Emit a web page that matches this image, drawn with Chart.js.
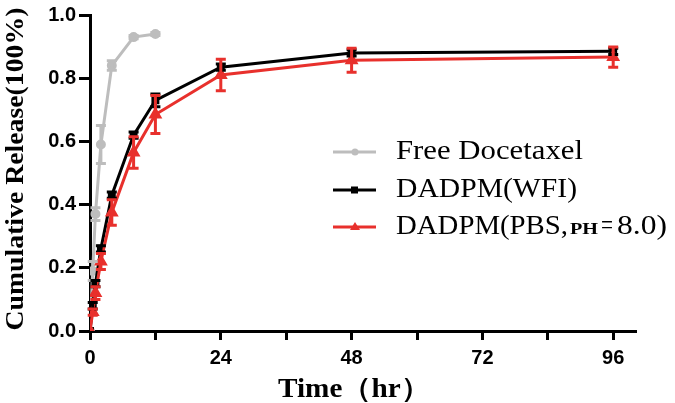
<!DOCTYPE html>
<html>
<head>
<meta charset="utf-8">
<script src="https://cdn.jsdelivr.net/npm/chart.js@4.4.1/dist/chart.umd.min.js"></script>
<style>
  html, body { margin: 0; padding: 0; background: #fff; }
  #wrap { width: 675px; height: 403px; }
</style>
</head>
<body>
<div id="wrap"><canvas id="chart" width="675" height="403"></canvas></div>
<script>
// release data (time in hours, fraction released)
var freeTime = [0, 0.5, 1, 2, 4, 8, 12];
var freeVal  = [0, 0.19, 0.37, 0.59, 0.84, 0.93, 0.94];
var freeErr  = [0, 0.03, 0.02, 0.06, 0.015, 0.005, 0.005];

var wfiTime = [0, 0.5, 1, 2, 4, 8, 12, 24, 48, 96];
var wfiVal  = [0, 0.08, 0.15, 0.26, 0.43, 0.62, 0.73, 0.835, 0.88, 0.885];
var wfiErr  = [0, 0.01, 0.01, 0.01, 0.01, 0.01, 0.02, 0.01, 0.01, 0.01];

var pbsTime = [0, 0.5, 1, 2, 4, 8, 12, 24, 48, 96];
var pbsVal  = [0, 0.06, 0.12, 0.22, 0.375, 0.565, 0.685, 0.81, 0.857, 0.867];
var pbsErr  = [0, 0.01, 0.02, 0.025, 0.04, 0.05, 0.06, 0.05, 0.038, 0.032];

var xTicks = [0, 24, 48, 72, 96];
var yTicks = [0, 0.2, 0.4, 0.6, 0.8, 1.0];

var legendLabels = ["Free Docetaxel", "DADPM(WFI)", "DADPM(PBS,PH=8.0)"];
var xTitle = "Time（hr）";
var yTitle = "Cumulative Release(100%)";

function pts(t, v) {
    var out = [];
    for (var i = 0; i < t.length; i++) out.push({x: t[i], y: v[i]});
    return out;
}

// draw text squeezed/stretched to a given width (the source font is wide)
function stretchText(ctx, text, x, y, w, align) {
    var m = ctx.measureText(text).width;
    var k = w / m;
    ctx.save();
    ctx.translate(x, y);
    ctx.scale(k, 1);
    ctx.textAlign = align || 'left';
    ctx.fillText(text, 0, 0);
    ctx.restore();
}

var errorBars = {
    id: 'errorBars',
    afterDatasetsDraw: function (chart) {
        var ctx = chart.ctx;
        var xs = chart.scales.x, ys = chart.scales.y;
        [0, 1, 2].forEach(function (di) {
            var ds = chart.data.datasets[di];
            if (!ds.errors) return;
            ctx.save();
            ctx.strokeStyle = ds.borderColor;
            ctx.lineWidth = 3;
            for (var i = 0; i < ds.data.length; i++) {
                var e = ds.errors[i];
                if (!e) continue;
                var px = xs.getPixelForValue(ds.data[i].x);
                var top = ys.getPixelForValue(ds.data[i].y + e);
                var bot = ys.getPixelForValue(ds.data[i].y - e);
                ctx.beginPath();
                ctx.moveTo(px, top); ctx.lineTo(px, bot);
                ctx.moveTo(px - 5, top); ctx.lineTo(px + 5, top);
                ctx.moveTo(px - 5, bot); ctx.lineTo(px + 5, bot);
                ctx.stroke();
            }
            ctx.restore();
        });
    }
};

var boxLegend = {
    id: 'boxLegend',
    afterDraw: function (chart) {
        var ctx = chart.ctx;
        var rows = [152, 190, 227];
        ctx.save();
        for (var i = 0; i < 3; i++) {
            var ds = chart.data.datasets[i];
            var y = rows[i];
            ctx.strokeStyle = ds.borderColor;
            ctx.fillStyle = ds.borderColor;
            ctx.lineWidth = 3;
            ctx.beginPath();
            ctx.moveTo(333, y); ctx.lineTo(376, y);
            ctx.stroke();
            ctx.beginPath();
            if (i === 0) {
                ctx.arc(355, y, 3.5, 0, Math.PI * 2);
            } else if (i === 1) {
                ctx.rect(351, y - 3.5, 7, 7);
            } else {
                ctx.moveTo(355, y - 5); ctx.lineTo(360, y + 3); ctx.lineTo(350, y + 3);
                ctx.closePath();
            }
            ctx.fill();
        }
        ctx.fillStyle = '#000';
        ctx.textBaseline = 'middle';
        ctx.font = '27px "Liberation Serif"';
        stretchText(ctx, legendLabels[0], 396, rows[0], 187);
        stretchText(ctx, legendLabels[1], 396, rows[1], 181);
        // third label: "PH" is set small and bold in the original
        var parts = legendLabels[2].split('PH');
        stretchText(ctx, parts[0], 396, rows[2], 172);
        ctx.font = 'bold 17px "Liberation Serif"';
        stretchText(ctx, 'PH', 570, rows[2] + 3, 28);
        ctx.font = '27px "Liberation Serif"';
        stretchText(ctx, '=', 601, rows[2], 12);
        stretchText(ctx, parts[1].slice(1), 617, rows[2], 50);

        // axis titles
        ctx.font = 'bold 27px "Liberation Serif"';
        stretchText(ctx, xTitle, 354, 390, 152, 'center');
        ctx.save();
        ctx.translate(16, 169);
        ctx.rotate(-Math.PI / 2);
        ctx.font = 'bold 26px "Liberation Serif"';
        stretchText(ctx, yTitle, 0, 0, 323, 'center');
        ctx.restore();
        ctx.restore();
    }
};

var tickFont = {family: '"Liberation Sans"', size: 20, weight: 'bold'};

new Chart(document.getElementById('chart'), {
    type: 'line',
    data: {
        datasets: [{
            label: legendLabels[0],
            data: pts(freeTime, freeVal),
            errors: freeErr,
            borderColor: '#bdbdbd',
            backgroundColor: '#bdbdbd',
            borderWidth: 3,
            pointStyle: 'circle',
            pointRadius: 3.5,
            order: 2
        }, {
            label: legendLabels[1],
            data: pts(wfiTime, wfiVal),
            errors: wfiErr,
            borderColor: '#000000',
            backgroundColor: '#000000',
            borderWidth: 3,
            pointStyle: 'rect',
            pointRadius: 3.5,
            order: 1
        }, {
            label: legendLabels[2],
            data: pts(pbsTime, pbsVal),
            errors: pbsErr,
            borderColor: '#e8302c',
            backgroundColor: '#e8302c',
            borderWidth: 3,
            pointStyle: 'triangle',
            pointRadius: 5,
            order: 0
        }]
    },
    options: {
        animation: false,
        responsive: false,
        events: [],
        layout: {padding: {top: 10, right: 40, left: 0, bottom: 0}},
        plugins: {legend: {display: false}, tooltip: {enabled: false}},
        elements: {line: {tension: 0}},
        scales: {
            x: {
                type: 'linear',
                min: 0,
                max: 100,
                afterFit: function (s) { s.height = 72; },
                border: {display: true, color: '#000', width: 3},
                grid: {display: true, drawOnChartArea: false, drawTicks: true, tickLength: 9, color: '#000', lineWidth: 3},
                ticks: {
                    stepSize: 12,
                    includeBounds: false,
                    maxRotation: 0,
                    autoSkip: false,
                    padding: 6,
                    color: '#000',
                    font: tickFont,
                    callback: function (v) { return xTicks.indexOf(v) >= 0 ? String(v) : ''; }
                }
            },
            y: {
                min: 0,
                max: 1,
                afterFit: function (s) { s.width = 90; },
                border: {display: true, color: '#000', width: 3},
                grid: {display: true, drawOnChartArea: false, drawTicks: true, tickLength: 11, color: '#000', lineWidth: 3},
                afterBuildTicks: function (s) { s.ticks = yTicks.map(function (v) { return {value: v}; }); },
                ticks: {
                    padding: 3,
                    color: '#000',
                    font: tickFont,
                    callback: function (v) { return v.toFixed(1); }
                }
            }
        }
    },
    plugins: [errorBars, boxLegend]
});
</script>
</body>
</html>
